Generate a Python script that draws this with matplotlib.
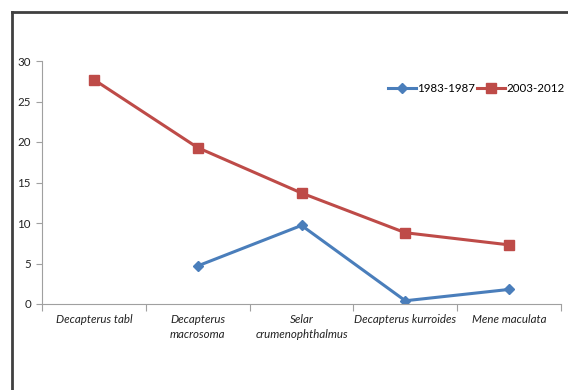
import numpy as np
import matplotlib.pyplot as plt
from matplotlib.lines import Line2D

species = ["Decapterus tabl", "Decapterus\nmacrosoma", "Selar\ncrumenophthalmus",
           "Decapterus kurroides", "Mene maculata"]
period_a = [np.nan, 4.7, 9.7, 0.4, 1.8]
period_b = [27.7, 19.3, 13.7, 8.8, 7.3]
labels = ["1983-1987", "2003-2012"]
yticks = [0, 5, 10, 15, 20, 25, 30]

plt.rcParams['font.family'] = ['Lato', 'DejaVu Sans']

fig = plt.figure(figsize=(5.68, 3.90), dpi=100)
ax = fig.add_axes([42 / 568, 86 / 390, 519 / 568, 243 / 390])

x = np.arange(len(species))
ax.plot(x, period_a, color='#4A7EBB', lw=2.2, marker='D', ms=5, label=labels[0])
ax.plot(x, period_b, color='#BE4B48', lw=2.2, marker='s', ms=6.5, label=labels[1])

ax.set_xlim(-0.5, len(species) - 0.5)
ax.set_ylim(0, 30)
ax.set_yticks(yticks)

# category labels centred, tick marks on the boundaries
ax.set_xticks(x)
ax.set_xticklabels(species, fontsize=8.3, style='italic', color='#222222',
                   linespacing=1.45)
ax.tick_params(axis='x', which='major', length=0, pad=7)
ax.set_xticks(np.arange(-0.5, len(species)), minor=True)
ax.tick_params(axis='x', which='minor', length=5, color='#A0A0A0', width=0.8)
ax.tick_params(axis='y', length=4, color='#A0A0A0', width=0.8, labelsize=8.3,
               labelcolor='#222222', pad=4)

for side in ['top', 'right']:
    ax.spines[side].set_visible(False)
for side in ['left', 'bottom']:
    ax.spines[side].set_color('#A0A0A0')
    ax.spines[side].set_linewidth(0.8)

ax.legend(loc='center left', bbox_to_anchor=(388 / 568, 1 - 89 / 390),
          bbox_transform=fig.transFigure, ncol=2, frameon=False, fontsize=8.3,
          handlelength=2.4, handletextpad=0.15, columnspacing=0.15,
          borderpad=0, borderaxespad=0)

# dark frame along the top and left edges
fig.add_artist(Line2D([11.5 / 568, 11.5 / 568], [0, 1 - 11.5 / 390],
                      color='#404040', lw=2, transform=fig.transFigure))
fig.add_artist(Line2D([11.5 / 568, 1], [1 - 11.5 / 390, 1 - 11.5 / 390],
                      color='#404040', lw=2, transform=fig.transFigure))

fig.savefig('out.png', dpi=100)
